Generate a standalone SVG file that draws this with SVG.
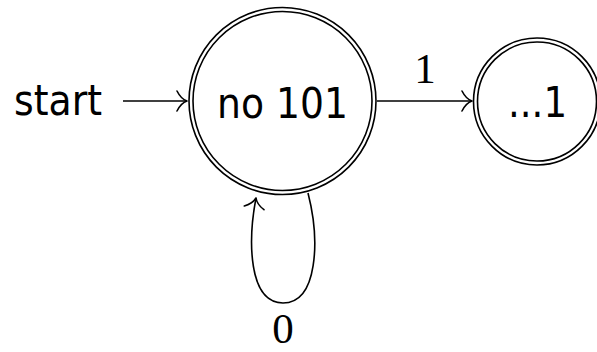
<svg xmlns="http://www.w3.org/2000/svg" width="597" height="352" viewBox="0 0 597 352">
<style>
.ring{fill:none;stroke:#000;stroke-width:1.6}
.edge{fill:none;stroke:#000;stroke-width:1.6}
.sans{font-family:"DejaVu Sans",sans-serif;font-size:43px;fill:#000}
.serif{font-family:"Liberation Serif",serif;font-size:43px;fill:#000;text-anchor:middle}
</style>
<defs>
<marker id="to" markerUnits="userSpaceOnUse" markerWidth="20" markerHeight="24" viewBox="-12 -12 14 24" refX="0" refY="0" orient="auto" overflow="visible">
<path d="M-10,-10 C-7,-4 -3,-1 0,0 M-10,10 C-7,4 -3,1 0,0" fill="none" stroke="#000" stroke-width="1.6" stroke-linecap="round"/>
</marker>
</defs>
<g id="start">
<text class="sans" x="14" y="115" font-size="37" textLength="88" lengthAdjust="spacingAndGlyphs">start</text>
</g>
<g id="q0">
<circle class="ring" cx="282.5" cy="101" r="93.5"/>
<circle class="ring" cx="282.5" cy="101" r="89.5"/>
<text class="sans" x="217" y="118" textLength="131" lengthAdjust="spacingAndGlyphs">no 101</text>
</g>
<g id="q1">
<circle class="ring" cx="537" cy="101.5" r="63.5"/>
<circle class="ring" cx="537" cy="101.5" r="59.5"/>
<text class="sans" x="508" y="117" textLength="59" lengthAdjust="spacingAndGlyphs">...1</text>
</g>
<g id="connectors">
<line class="edge" x1="123" y1="101" x2="187" y2="101" marker-end="url(#to)"/>
<line class="edge" x1="377" y1="101" x2="472" y2="101" marker-end="url(#to)"/>
<path class="edge" d="M308,193 C320,240 318,303 283,303 C248,303 248,240 256,198" marker-end="url(#to)"/>
<text class="serif" x="425" y="83">1</text>
<text class="serif" x="283" y="343" font-size="41">0</text>
</g>
</svg>
